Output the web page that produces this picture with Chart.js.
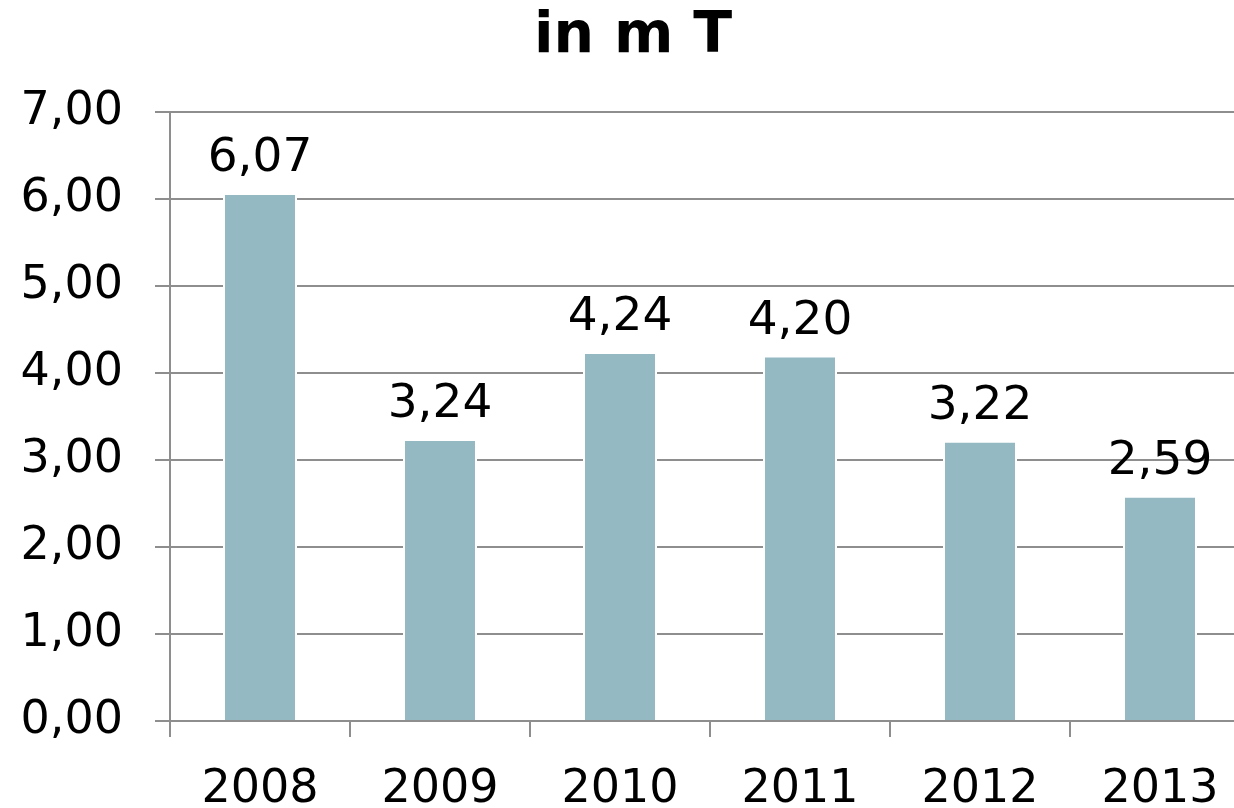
<!DOCTYPE html>
<html lang="de">
<head>
    <meta charset="UTF-8">
    <script src="https://cdn.jsdelivr.net/npm/chart.js"></script>
    <title>in m T</title>
    <style>
        body { margin: 0; overflow: hidden; background: #fff; }
        #wrap { width: 1250px; height: 808px; }
    </style>
</head>
<body>
    <div id="wrap"><canvas id="myChart"></canvas></div>
    <script>
        const years = ['2008', '2009', '2010', '2011', '2012', '2013'];
        const values = [6.07, 3.24, 4.24, 4.20, 3.22, 2.59];
        const yTicks = [0, 1, 2, 3, 4, 5, 6, 7];

        const fontFam = '"DejaVu Sans", Verdana, sans-serif';
        const gridColor = '#8e8e8e';
        const fmt = v => v.toFixed(2).replace('.', ',');

        // value labels above each bar
        const valueLabels = {
            id: 'valueLabels',
            afterDatasetsDraw(chart) {
                const ctx = chart.ctx;
                const meta = chart.getDatasetMeta(0);
                ctx.save();
                ctx.font = '47px ' + fontFam;
                ctx.fillStyle = '#000';
                ctx.textAlign = 'center';
                ctx.textBaseline = 'alphabetic';
                meta.data.forEach((bar, i) => {
                    ctx.fillText(fmt(values[i]), bar.x, bar.y - 22);
                });
                ctx.restore();
            }
        };

        const ctx = document.getElementById('myChart').getContext('2d');
        const chart = new Chart(ctx, {
            type: 'bar',
            data: {
                labels: years,
                datasets: [{
                    data: values,
                    backgroundColor: '#95b9c3',
                    borderColor: '#ffffff',
                    borderWidth: 2,
                    barPercentage: 74 / 180,
                    categoryPercentage: 1
                }]
            },
            options: {
                responsive: true,
                maintainAspectRatio: false,
                animation: false,
                layout: { padding: { left: 16, right: 0, top: 0, bottom: 0 } },
                plugins: {
                    legend: { display: false },
                    tooltip: { enabled: false },
                    title: {
                        display: true,
                        text: 'in m T',
                        color: '#000',
                        font: { family: fontFam, size: 57, weight: 'bold', lineHeight: 1 },
                        padding: { top: 9, bottom: 46 }
                    }
                },
                scales: {
                    x: {
                        afterFit(scale) { scale.height = 87; },
                        grid: {
                            offset: true,
                            drawOnChartArea: false,
                            tickLength: 16,
                            color: gridColor,
                            lineWidth: 2
                        },
                        border: { color: gridColor, width: 2 },
                        ticks: {
                            color: '#000',
                            padding: 25,
                            font: { family: fontFam, size: 46 }
                        }
                    },
                    y: {
                        min: 0,
                        max: 7,
                        afterFit(scale) { scale.width = 154; },
                        afterBuildTicks(scale) {
                            scale.ticks = yTicks.map(v => ({ value: v }));
                        },
                        grid: {
                            tickLength: 15,
                            color: gridColor,
                            lineWidth: 2
                        },
                        border: { color: gridColor, width: 2 },
                        ticks: {
                            color: '#000',
                            padding: 32,
                            font: { family: fontFam, size: 46 },
                            callback: v => fmt(v)
                        }
                    }
                }
            },
            plugins: [valueLabels]
        });
    </script>
</body>
</html>
